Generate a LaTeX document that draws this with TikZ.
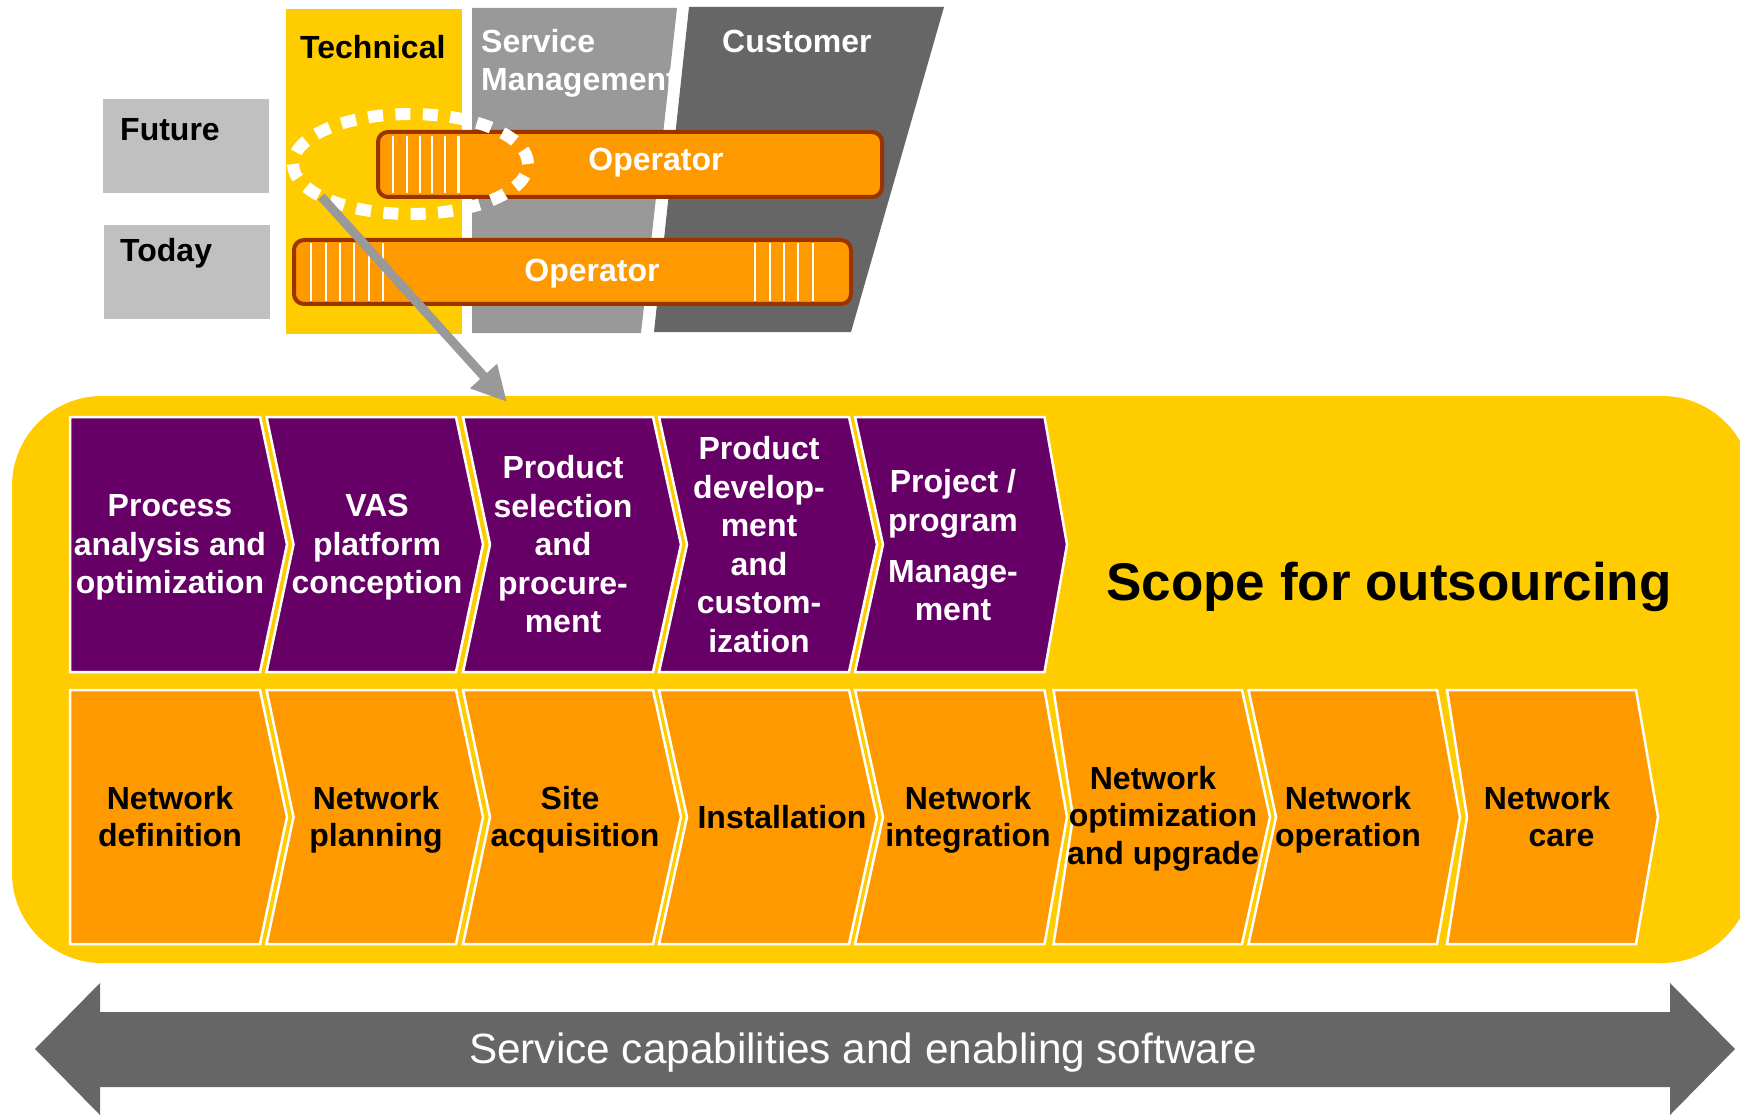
\documentclass[tikz,border=0pt]{standalone}
\usepackage{fontspec}
\setmainfont{Liberation Sans}
\usetikzlibrary{arrows.meta,shapes.geometric}
\definecolor{ybg}{HTML}{FFCC00}
\definecolor{orng}{HTML}{FF9900}
\definecolor{purp}{HTML}{660066}
\definecolor{brwn}{HTML}{993300}
\definecolor{lgray}{HTML}{C0C0C0}
\definecolor{mgray}{HTML}{999999}
\definecolor{dgray}{HTML}{666666}
\tikzset{
  chevp/.style={fill=purp, draw=white, line width=2.5pt, line join=miter},
  chevo/.style={fill=orng, draw=white, line width=2.5pt, line join=miter},
  ptext/.style={text=white, font=\bfseries\fontsize{32}{38.5}\selectfont, align=center, inner sep=0pt,
    execute at begin node=\strut, execute at end node=\strut},
  otext/.style={text=black, font=\bfseries\fontsize{32}{37.5}\selectfont, align=center, inner sep=0pt,
    execute at begin node=\strut, execute at end node=\strut},
  lbl/.style={font=\bfseries\fontsize{32}{38}\selectfont, inner sep=0pt, anchor=base west},
  opbar/.style={fill=orng, draw=brwn, line width=4pt, rounded corners=10pt},
  stripe/.style={draw=white, line width=2.5pt},
  optext/.style={text=white, font=\bfseries\fontsize{32}{38}\selectfont, inner sep=0pt, anchor=base},
  focusring/.style={ellipse, draw=white, line width=12pt, dash pattern=on 15pt off 12.4pt,
    minimum width=235pt, minimum height=100pt, inner sep=0pt, outer sep=0pt},
  pointer/.style={draw=mgray, line width=9pt, -{Triangle[length=35pt,width=34pt]}}
}
\begin{document}
\begin{tikzpicture}[x=1pt,y=-1pt]
\useasboundingbox (0,0) rectangle (1740,1115);

% ---- top part: columns
\fill[ybg] (286,9) rectangle (462,334);
\fill[mgray] (472,8) -- (677,8) -- (641,333) -- (472,333) -- cycle;
\fill[dgray] (689,7) -- (944,7) -- (851,332) -- (654,332) -- cycle;

\node[lbl, text=black] (tech) at (300,59) {Technical};
\node[lbl, text=white] (serv1) at (481,53) {Service};
\node[lbl, text=white] (serv2) at (481,91) {Management};
\node[lbl, text=white] (cust) at (722,53) {Customer};

% ---- Future / Today boxes
\fill[lgray] (103,99) rectangle (269,193);
\fill[lgray] (104,225) rectangle (270,319);
\node[lbl, text=black] (future) at (120,141) {Future};
\node[lbl, text=black] (today) at (120,262) {Today};

% ---- operator bars
\draw[opbar] (378,132) rectangle (882,197);
\foreach \x in {393,407,420,432,445,458.5} \draw[stripe] (\x,136) -- (\x,193);
\node[optext] (opfut) at (656,171) {Operator};

\draw[opbar] (294,240) rectangle (851,304);
\foreach \x in {311,326,340,354,369,383,755,770,784,798,813} \draw[stripe] (\x,243) -- (\x,301);
\node[optext] (optoday) at (592,282) {Operator};

\node[focusring] (focus) at (410.5,164) {};

% ---- big yellow area
\fill[ybg, rounded corners=90pt] (12,396) rectangle (1752,963);

% purple chevrons (left x / top-right x / tip x / notch x)
\draw[chevp] (70,417) -- (260,417) -- (287,544.5) -- (260,672) -- (70,672) -- cycle;
\foreach \xa/\xb/\xt/\xn in {266.5/456/483/293.5, 463/653/681/490, 659/849/877/687, 855/1044.5/1067/883} {
  \draw[chevp] (\xa,417) -- (\xb,417) -- (\xt,544.5) -- (\xb,672) -- (\xa,672) -- (\xn,544.5) -- cycle;
}
% orange chevrons
\draw[chevo] (70,690) -- (260,690) -- (287,817) -- (260,944) -- (70,944) -- cycle;
\foreach \xa/\xb/\xt/\xn in {266.5/456/483/293.5, 463/653/681/490, 659/849/877/687, 855/1044.5/1067/883,
    1053.5/1242/1270/1073, 1248.5/1437/1460/1276, 1447/1636/1658/1467} {
  \draw[chevo] (\xa,690) -- (\xb,690) -- (\xt,817) -- (\xb,944) -- (\xa,944) -- (\xn,817) -- cycle;
}

\node[ptext] (p1) at (170,550) {Process\\analysis and\\optimization};
\node[ptext] (p2) at (377,550) {VAS\\platform\\conception};
\node[ptext] (p3) at (563,550) {Product\\selection\\and\\procure-\\ment};
\node[ptext] (p4) at (759,550) {Product\\develop-\\ment\\and\\custom-\\ization};
\node[ptext] (p5) at (953,551) {Project /\\program\\[12.5pt]Manage-\\ment};

\node[otext] (o1) at (170,822) {Network\\definition};
\node[otext] (o2) at (376,822) {Network\\planning};
\node[otext] (o3) at (575,822) {Site\hspace*{10pt}\\acquisition};
\node[otext] (o4) at (782,821) {Installation};
\node[otext] (o5) at (968,822) {Network\\integration};
\node[otext] (o6) at (1163,821) {Network\hspace*{20pt}\\optimization\\and upgrade};
\node[otext] (o7) at (1348,822) {Network\\operation};
\node[otext] (o8) at (1547,822) {Network\\\hspace*{29pt}care};

\node[font=\bfseries\fontsize{53}{60}\selectfont, inner sep=0pt, anchor=base] (scope) at (1389,600) {Scope for outsourcing};

% ---- bottom double arrow
\fill[dgray] (35,1049) -- (100,983) -- (100,1012) -- (1670,1012) -- (1670,983) -- (1735,1049)
  -- (1670,1115) -- (1670,1087) -- (100,1087) -- (100,1115) -- cycle;
\node[font=\fontsize{42.3}{50}\selectfont, text=white, inner sep=0pt, anchor=base] (svc) at (863,1063)
  {Service capabilities and enabling software};

% ---- pointer arrow
\coordinate (tip) at (507,402);
\draw[pointer] (focus.200) -- (tip);
\end{tikzpicture}
\end{document}
